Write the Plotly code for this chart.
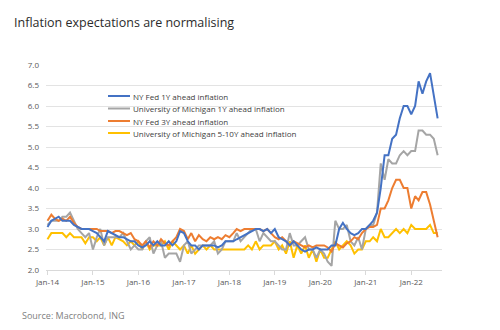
import pandas as pd
import plotly.graph_objects as go

dates = pd.date_range("2014-01-01", "2022-08-01", freq="MS")

nyfed_1y = [
    3.05, 3.2, 3.25, 3.3, 3.2, 3.2, 3.2, 3.1, 3.05, 3.0, 3.0, 3.0,
    2.95, 2.9, 2.8, 2.7, 2.95, 2.9, 2.85, 2.8, 2.8, 2.75, 2.7, 2.7,
    2.6, 2.55, 2.6, 2.7, 2.6, 2.7, 2.6, 2.6, 2.7, 2.6, 2.7, 2.95,
    2.9, 2.7, 2.6, 2.6, 2.5, 2.6, 2.6, 2.6, 2.6, 2.55, 2.6, 2.7,
    2.7, 2.7, 2.75, 2.8, 2.85, 2.9, 2.95, 3.0, 3.0, 2.95, 3.0, 2.9,
    3.0, 2.8, 2.75, 2.7, 2.6, 2.7, 2.6, 2.5, 2.45, 2.5, 2.5, 2.55,
    2.5, 2.5, 2.5, 2.6, 2.6, 3.0, 3.15, 3.0, 2.9, 2.85, 2.9, 3.0,
    3.0, 3.1, 3.2, 3.4, 4.0, 4.8, 4.8, 5.2, 5.3, 5.7, 6.0, 6.0,
    5.8, 6.0, 6.6, 6.3, 6.6, 6.8, 6.2, 5.7,
]

umich_1y = [
    3.1, 3.2, 3.2, 3.2, 3.3, 3.3, 3.4, 3.2, 3.0, 2.9, 2.8, 2.9,
    2.5, 2.8, 3.0, 2.6, 2.8, 2.8, 2.8, 2.8, 2.9, 2.7, 2.5, 2.6,
    2.5, 2.5, 2.7, 2.8, 2.4, 2.6, 2.7, 2.3, 2.4, 2.4, 2.4, 2.2,
    2.6, 2.7, 2.4, 2.5, 2.6, 2.6, 2.6, 2.6, 2.7, 2.4, 2.5, 2.7,
    2.7, 2.7, 2.9, 2.7, 2.8, 2.9, 3.0, 3.0, 2.7, 2.9, 2.8, 2.7,
    2.7, 2.6, 2.5, 2.5, 2.9, 2.6, 2.6, 2.7, 2.8, 2.5, 2.5, 2.3,
    2.5, 2.4, 2.2, 2.1, 3.2, 3.0, 3.0, 3.1, 2.7, 2.6, 2.8, 2.5,
    3.0, 3.1, 3.1, 3.4, 4.6, 4.2, 4.7, 4.6, 4.6, 4.8, 4.9, 4.8,
    4.9, 4.9, 5.4, 5.4, 5.3, 5.3, 5.2, 4.8,
]

nyfed_3y = [
    3.2, 3.35, 3.25, 3.2, 3.25, 3.2, 3.3, 3.15, 3.05, 3.0, 3.0, 3.0,
    3.0, 3.0, 2.95, 2.95, 2.95, 2.9, 2.95, 2.95, 2.9, 2.85, 2.9, 2.75,
    2.7, 2.6, 2.7, 2.55, 2.7, 2.6, 2.75, 2.65, 2.6, 2.7, 2.8, 3.0,
    2.95, 2.75, 2.9, 2.7, 2.85, 2.75, 2.7, 2.8, 2.75, 2.8, 2.75, 2.85,
    2.8, 2.9, 3.0, 2.95, 3.0, 3.0, 3.0, 3.0, 3.0, 2.95, 3.0, 2.9,
    2.8, 2.75, 2.8, 2.7, 2.6, 2.7, 2.65, 2.6, 2.55, 2.6, 2.55, 2.6,
    2.6, 2.6, 2.55, 2.45, 2.65, 2.6, 2.55, 2.65, 2.7, 2.8, 2.75, 2.9,
    3.0, 3.05, 3.05, 3.1, 3.5, 3.5, 3.7, 4.0, 4.2, 4.2, 4.0, 4.0,
    3.5, 3.8, 3.7, 3.9, 3.9, 3.6, 3.2, 2.8,
]

umich_5_10y = [
    2.75, 2.9, 2.9, 2.9, 2.9, 2.8, 2.9, 2.8, 2.8, 2.8, 2.65, 2.8,
    2.8, 2.7, 2.8, 2.6, 2.8, 2.6, 2.8, 2.75, 2.7, 2.6, 2.7, 2.6,
    2.7, 2.5, 2.7, 2.5, 2.6, 2.6, 2.6, 2.7, 2.5, 2.7, 2.6, 2.5,
    2.6, 2.4, 2.6, 2.4, 2.5, 2.6, 2.5, 2.6, 2.5, 2.5, 2.5, 2.5,
    2.5, 2.5, 2.5, 2.5, 2.5, 2.6, 2.5, 2.7, 2.5, 2.6, 2.6, 2.6,
    2.7, 2.5, 2.6, 2.4, 2.7, 2.3, 2.6, 2.4, 2.6, 2.3, 2.5, 2.2,
    2.5, 2.3, 2.3, 2.5, 2.7, 2.5, 2.6, 2.7, 2.6, 2.4, 2.5, 2.5,
    2.7, 2.7, 2.8, 2.7, 3.0, 2.8, 2.8, 2.9, 3.0, 2.9, 3.0, 2.9,
    3.1, 3.0, 3.0, 3.0, 3.0, 3.1, 2.9, 2.9,
]

series_names = [
    "NY Fed 1Y ahead inflation",
    "University of Michigan 1Y ahead inflation",
    "NY Fed 3Y ahead inflation",
    "University of Michigan 5-10Y ahead inflation",
]
series_values = [nyfed_1y, umich_1y, nyfed_3y, umich_5_10y]
colors = ["#4472C4", "#A5A5A5", "#ED7D31", "#FFC000"]

tick_dates = pd.date_range("2014-01-01", "2022-01-01", freq="YS")
tick_labels = [d.strftime("%b-%y") for d in tick_dates]
y_ticks = [2.0, 2.5, 3.0, 3.5, 4.0, 4.5, 5.0, 5.5, 6.0, 6.5, 7.0]

W, H = 500, 330
ML, MR, MT, MB = 46, 58, 65, 60
PW, PH = W - ML - MR, H - MT - MB


def px_x(x):
    return (x - ML) / PW


def px_y(y):
    return (H - MB - y) / PH


fig = go.Figure()
order = [3, 1, 2, 0]
for i in order:
    fig.add_trace(go.Scatter(
        x=dates, y=series_values[i], name=series_names[i], mode="lines",
        line=dict(color=colors[i], width=2), showlegend=False,
    ))

FONT = "Open Sans"
shapes = [
    dict(type="rect", xref="paper", yref="paper", layer="below",
         x0=px_x(100), x1=px_x(308), y0=px_y(88), y1=px_y(141),
         fillcolor="white", line=dict(width=0)),
]
annotations = [
    dict(text="Inflation expectations are normalising", x=px_x(12), y=px_y(22),
         font=dict(family=FONT, size=12.5, color="#2b2b2b")),
    dict(text="Source: Macrobond, ING", x=px_x(20), y=px_y(315),
         font=dict(family=FONT, size=9, color="#808080")),
]
row_y = [96, 108.5, 121, 133]
for name, col, ry in zip(series_names, colors, row_y):
    shapes.append(dict(type="line", xref="paper", yref="paper",
                       x0=px_x(108), x1=px_x(130), y0=px_y(ry), y1=px_y(ry),
                       line=dict(color=col, width=2)))
    annotations.append(dict(text=name, x=px_x(131), y=px_y(ry),
                            font=dict(family=FONT, size=8, color="#404040")))

for a in annotations:
    a.update(xref="paper", yref="paper", showarrow=False,
             xanchor="left", yanchor="middle")

fig.update_layout(
    width=W, height=H,
    margin=dict(l=ML, r=MR, t=MT, b=MB),
    paper_bgcolor="white", plot_bgcolor="white",
    font=dict(family=FONT, size=8, color="#595959"),
    showlegend=False,
    xaxis=dict(
        range=["2013-12-20", "2022-09-05"],
        tickvals=tick_dates, ticktext=tick_labels,
        showgrid=False, showline=True, linecolor="#d9d9d9", linewidth=1,
        ticks="outside", ticklen=4, tickcolor="#d9d9d9",
        tickfont=dict(size=8, color="#595959"),
    ),
    yaxis=dict(
        range=[2.0, 7.0], tickvals=y_ticks, tickformat=".1f",
        showgrid=True, gridcolor="#e3e3e3", gridwidth=1,
        zeroline=False, showline=False,
        tickfont=dict(size=8, color="#595959"), ticklabelstandoff=6,
    ),
    shapes=shapes,
    annotations=annotations,
)

fig.write_html("out.html")
